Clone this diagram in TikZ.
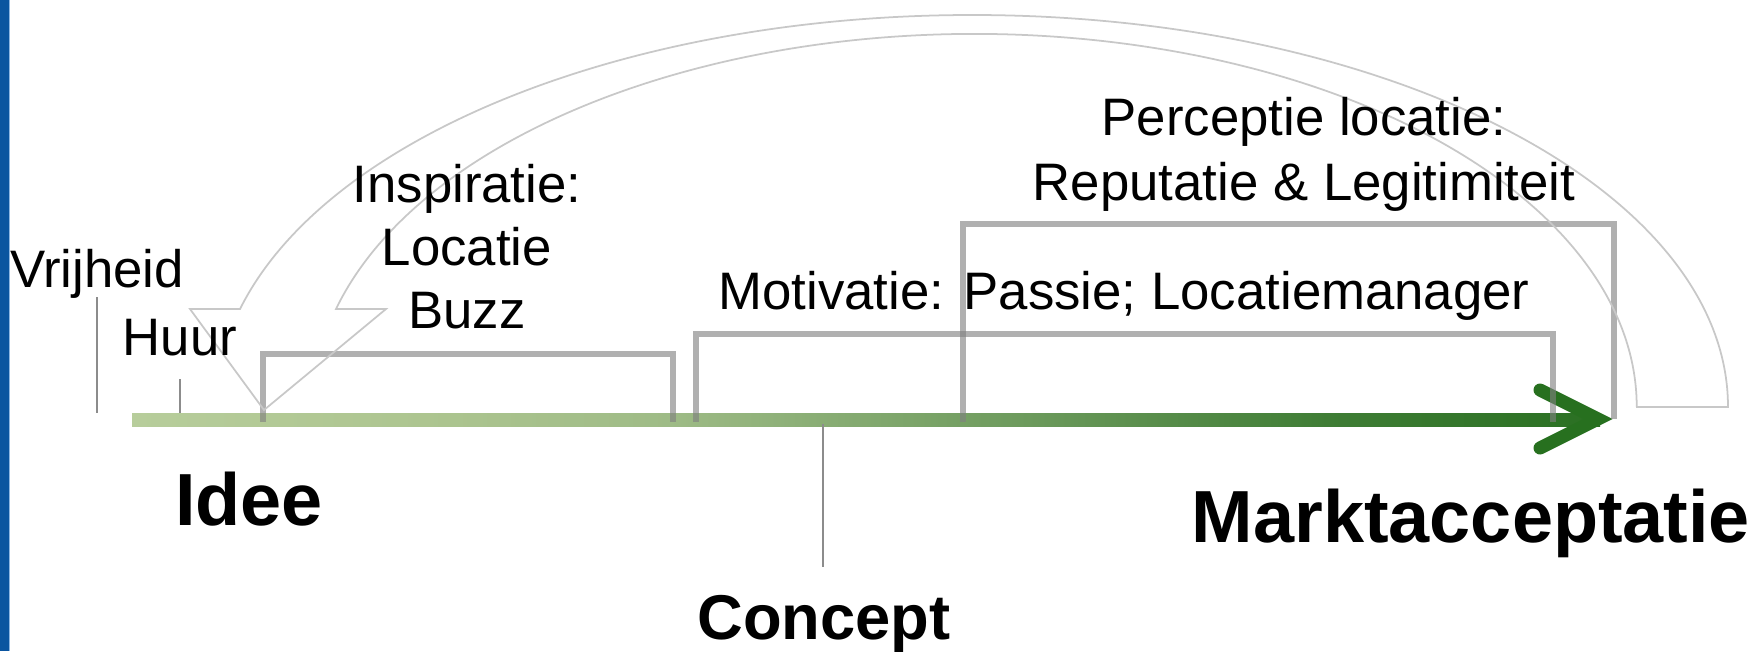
\documentclass[tikz,border=0pt]{standalone}
\usepackage{fontspec}
\setmainfont{Liberation Sans}
\usetikzlibrary{calc}
\definecolor{barblue}{HTML}{0A55A0}
\definecolor{baredge}{HTML}{8DB6E2}
\definecolor{g0}{HTML}{B7CD9B}
\definecolor{g1}{HTML}{ADC590}
\definecolor{g2}{HTML}{9EBB86}
\definecolor{g3}{HTML}{6C9A5C}
\definecolor{g4}{HTML}{3F7D35}
\definecolor{g5}{HTML}{2A7022}
\definecolor{arrowgreen}{HTML}{27701F}
\definecolor{outlinegray}{HTML}{C8C8C8}
\definecolor{tickgray}{HTML}{8C8C8C}
\pgfdeclarehorizontalshading{timeline}{100bp}{color(0bp)=(g0); color(25bp)=(g0); color(35bp)=(g1); color(43.3bp)=(g2); color(55.5bp)=(g3); color(65.7bp)=(g4); color(75bp)=(g5); color(100bp)=(g5)}
\begin{document}
\begin{tikzpicture}[x=0.01cm,y=0.01cm,
  bracketline/.style={draw=black!50, draw opacity=0.62, line width=1.7pt},
  tickline/.style={draw=tickgray, line width=0.45pt},
  chevron/.style={draw=arrowgreen, line width=3.7pt, line cap=round, line join=miter},
  bigoutline/.style={draw=outlinegray, line width=0.5pt, line join=miter},
  lbl/.style={font=\fontsize{15}{18}\selectfont, inner sep=0pt, anchor=base},
  bold/.style={font=\fontsize{21}{24}\selectfont\bfseries, inner sep=0pt, anchor=base},
  boldsmall/.style={font=\fontsize{18}{21}\selectfont\bfseries, inner sep=0pt, anchor=base}]
\useasboundingbox (0,0) rectangle (1760,-651);
% left blue bar
\fill[barblue] (0,0) rectangle (9,-651);
\draw[baredge, line width=0.3pt] (9.5,0) -- (9.5,-651);
% timeline
\shade[shading=timeline] (132,-413) rectangle (1600,-426);
\draw[chevron] (1540,-390) -- (1598,-419) -- (1540,-448);
% brackets
\coordinate (ib1) at (263,-422); \coordinate (ib2) at (673,-422);
\coordinate (mb1) at (696,-422); \coordinate (mb2) at (1553,-422);
\coordinate (pb1) at (963,-422); \coordinate (pb2) at (1614,-419);
\draw[bracketline] (ib1) -- ++(0,68) -| (ib2);
\draw[bracketline] (mb1) -- ++(0,88) -| (mb2);
\draw[bracketline] (pb1) -- ++(0,198) -| (pb2);
% curved block arrow outline
\draw[bigoutline] (1636,-407) -- (1728,-407)
  arc[start angle=0, end angle=165.52, x radius=756, y radius=392]
  -- (190,-309) -- (264,-410) -- (386,-309) -- (336,-309)
  arc[start angle=164.77, end angle=0, x radius=662, y radius=373]
  -- cycle;
% labels
\node[lbl] (vrij) at (97,-287) {Vrijheid};
\node[lbl] (huur) at (180,-355) {Huur};
\node[lbl] (insp1) at (467,-202) {Inspiratie:};
\node[lbl] (insp2) at (467,-265) {Locatie};
\node[lbl] (insp3) at (467,-328) {Buzz};
\node[lbl] (perc1) at (1304,-135) {Perceptie locatie:};
\node[lbl] (perc2) at (1304,-200) {Reputatie \& Legitimiteit};
\node[lbl] (moti) at (1124,-309) {Motivatie: Passie; Locatiemanager};
\node[bold] (idee) at (249,-525) {Idee};
\node[bold] (markt) at (1471,-542) {Marktacceptatie};
\node[boldsmall] (concept) at (824,-639) {Concept};
% ticks
\coordinate (vt1) at (97,-297); \coordinate (vt2) at (97,-413);
\coordinate (ht1) at (180,-379); \coordinate (ht2) at (180,-413);
\coordinate (ct1) at (823,-424); \coordinate (ct2) at (823,-567);
\draw[tickline] (vt1) -- (vt2);
\draw[tickline] (ht1) -- (ht2);
\draw[tickline] (ct1) -- (ct2);
\end{tikzpicture}
\end{document}
